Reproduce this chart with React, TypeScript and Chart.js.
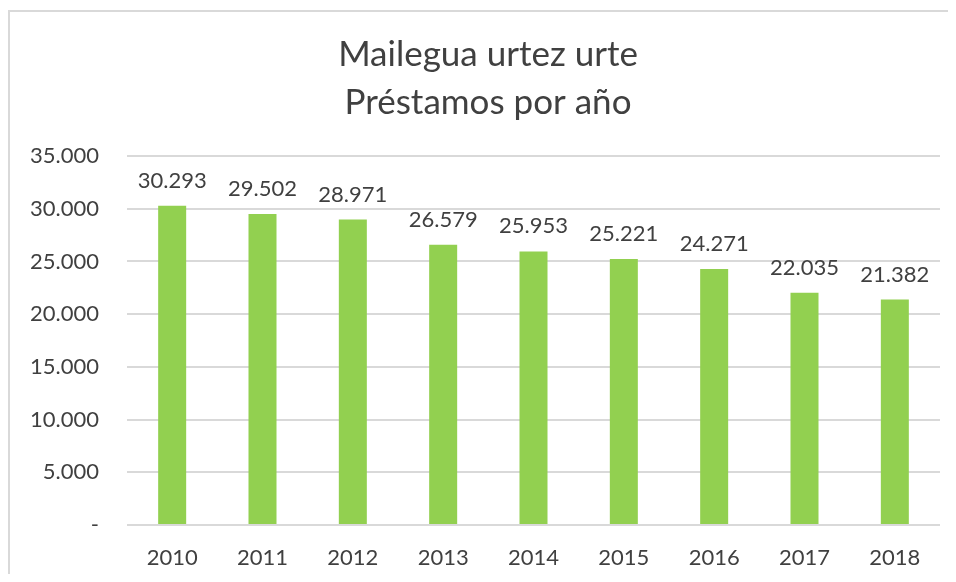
import React, { useEffect, useRef } from "react";
import { Chart, registerables } from "chart.js";

Chart.register(...registerables);

const titleLines = ["Mailegua urtez urte", "Préstamos por año"];
const years = ["2010", "2011", "2012", "2013", "2014", "2015", "2016", "2017", "2018"];
const loans = [30293, 29502, 28971, 26579, 25953, 25221, 24271, 22035, 21382];
const yMin = 0;
const yMax = 35000;
const yStep = 5000;

const FONT = "Lato, 'Open Sans', sans-serif";
const TEXT = "#404040";

function fmt(v: number): string {
  if (v === 0) return "-";
  return String(Math.round(v)).replace(/\B(?=(\d{3})+(?!\d))/g, ".");
}

const frame = {
  id: "frame",
  beforeDraw(chart: any) {
    const ctx = chart.ctx;
    ctx.save();
    ctx.fillStyle = "#ffffff";
    ctx.fillRect(0, 0, chart.width, chart.height);
    ctx.strokeStyle = "#d9d9d9";
    ctx.lineWidth = 2;
    ctx.beginPath();
    ctx.moveTo(1, chart.height);
    ctx.lineTo(1, 3);
    ctx.lineTo(chart.width, 3);
    ctx.stroke();
    ctx.fillStyle = TEXT;
    ctx.font = `35px ${FONT}`;
    ctx.textAlign = "center";
    ctx.textBaseline = "middle";
    titleLines.forEach((t, i) => ctx.fillText(t, 480, 47 + i * 48));
    ctx.restore();
  },
};

const labels = {
  id: "valueLabels",
  afterDatasetsDraw(chart: any) {
    const ctx = chart.ctx;
    const meta = chart.getDatasetMeta(0);
    ctx.save();
    ctx.font = `22px ${FONT}`;
    ctx.fillStyle = TEXT;
    ctx.textAlign = "center";
    ctx.textBaseline = "middle";
    meta.data.forEach((bar: any, i: number) => {
      ctx.fillText(fmt(loans[i]), bar.x, bar.y - 25);
    });
    ctx.restore();
  },
};

export default function App() {
  const ref = useRef<HTMLCanvasElement>(null);
  useEffect(() => {
    document.body.style.overflow = "hidden";
    const chart = new Chart(ref.current!, {
      type: "bar",
      data: {
        labels: years,
        datasets: [
          {
            data: loans,
            backgroundColor: "#92D050",
            borderWidth: 0,
            categoryPercentage: 1,
            barPercentage: 0.31,
          },
        ],
      },
      plugins: [frame, labels],
      options: {
        animation: false,
        responsive: false,
        layout: { padding: { left: 0, right: 16, top: 148, bottom: 0 } },
        plugins: {
          legend: { display: false },
          tooltip: { enabled: false },
          title: { display: false },
        },
        scales: {
          x: {
            grid: { display: false, drawTicks: false },
            border: { display: false },
            ticks: { color: TEXT, font: { family: FONT, size: 22 }, padding: 20 },
            afterFit(scale: any) {
              scale.height = 49;
            },
          },
          y: {
            min: yMin,
            max: yMax,
            grid: { color: "#d9d9d9", lineWidth: 2, drawTicks: false },
            border: { display: false },
            ticks: {
              stepSize: yStep,
              color: TEXT,
              font: { family: FONT, size: 22 },
              padding: 28,
              callback: (v: any) => fmt(Number(v)),
            },
            afterFit(scale: any) {
              scale.width = 119;
            },
          },
        },
      },
    });
    return () => chart.destroy();
  }, []);
  return (
    <div style={{ width: 948, height: 566 }}>
      <canvas ref={ref} width={948} height={566} style={{ display: "block" }} />
    </div>
  );
}
